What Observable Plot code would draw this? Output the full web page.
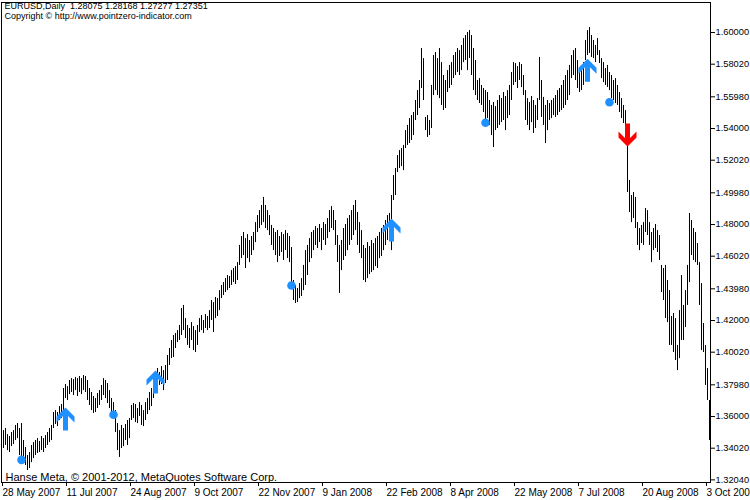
<!DOCTYPE html>
<html>
<head>
<meta charset="utf-8">
<script src="https://cdn.jsdelivr.net/npm/d3@7"></script>
<script src="https://cdn.jsdelivr.net/npm/@observablehq/plot@0.6"></script>
<style>
  html, body { margin: 0; padding: 0; background: #fff; }
  #chart { width: 750px; height: 500px; }
</style>
</head>
<body>
<div id="chart"></div>
<script>
// Daily bar highs (EURUSD), 28 May 2007 .. 3 Oct 2008
const hi = [
1.3512,1.3525,1.3487,1.3475,1.3500,1.3512,1.3544,1.3556,1.3525,1.3556,
1.3450,1.3406,1.3356,1.3375,1.3419,1.3437,1.3450,1.3462,1.3444,1.3475,
1.3462,1.3481,1.3500,1.3525,1.3544,1.3625,1.3637,1.3625,1.3662,1.3675,
1.3775,1.3800,1.3787,1.3825,1.3837,1.3831,1.3844,1.3837,1.3850,1.3837,
1.3856,1.3850,1.3825,1.3775,1.3750,1.3725,1.3712,1.3744,1.3762,1.3794,
1.3837,1.3825,1.3806,1.3762,1.3712,1.3687,1.3637,1.3556,1.3512,1.3544,
1.3525,1.3550,1.3575,1.3587,1.3669,1.3681,1.3675,1.3650,1.3687,1.3669,
1.3637,1.3687,1.3712,1.3750,1.3775,1.3837,1.3875,1.3900,1.3875,1.3912,
1.3887,1.3919,1.3981,1.4025,1.4075,1.4106,1.4119,1.4137,1.4169,1.4275,
1.4294,1.4212,1.4169,1.4150,1.4187,1.4162,1.4137,1.4169,1.4212,1.4231,
1.4200,1.4237,1.4225,1.4262,1.4325,1.4312,1.4344,1.4337,1.4387,1.4419,
1.4437,1.4462,1.4481,1.4475,1.4512,1.4525,1.4537,1.4562,1.4669,1.4725,
1.4750,1.4712,1.4737,1.4700,1.4725,1.4750,1.4812,1.4856,1.4887,1.4919,
1.4969,1.4919,1.4887,1.4856,1.4794,1.4775,1.4750,1.4762,1.4725,1.4750,
1.4737,1.4762,1.4744,1.4725,1.4656,1.4450,1.4419,1.4400,1.4431,1.4462,
1.4544,1.4637,1.4669,1.4712,1.4750,1.4762,1.4787,1.4775,1.4800,1.4775,
1.4812,1.4800,1.4837,1.4887,1.4912,1.4887,1.4825,1.4731,1.4669,1.4700,
1.4775,1.4800,1.4837,1.4856,1.4887,1.4919,1.4950,1.4875,1.4812,1.4762,
1.4669,1.4650,1.4687,1.4662,1.4700,1.4681,1.4712,1.4725,1.4750,1.4775,
1.4794,1.4825,1.4856,1.4869,1.4981,1.5106,1.5150,1.5231,1.5262,1.5275,
1.5294,1.5387,1.5419,1.5462,1.5481,1.5500,1.5575,1.5637,1.5700,1.5900,
1.5837,1.5469,1.5481,1.5450,1.5669,1.5856,1.5875,1.5837,1.5900,1.5812,
1.5731,1.5700,1.5762,1.5794,1.5812,1.5856,1.5875,1.5900,1.5887,1.5919,
1.5962,1.5981,1.6000,1.6012,1.5981,1.5900,1.5825,1.5700,1.5712,1.5669,
1.5650,1.5637,1.5625,1.5575,1.5544,1.5562,1.5537,1.5575,1.5606,1.5587,
1.5625,1.5600,1.5637,1.5669,1.5750,1.5812,1.5806,1.5787,1.5812,1.5800,
1.5731,1.5637,1.5587,1.5562,1.5600,1.5575,1.5544,1.5587,1.5844,1.5700,
1.5594,1.5544,1.5575,1.5556,1.5575,1.5587,1.5606,1.5637,1.5650,1.5669,
1.5700,1.5731,1.5762,1.5794,1.5856,1.5887,1.5900,1.5825,1.5775,1.5762,
1.5812,1.5950,1.6012,1.6031,1.5981,1.5950,1.5919,1.5962,1.5887,1.5837,
1.5812,1.5775,1.5794,1.5750,1.5731,1.5700,1.5712,1.5669,1.5625,1.5587,
1.5544,1.5512,1.5419,1.5075,1.4981,1.5000,1.4969,1.4812,1.4775,1.4794,
1.4812,1.4900,1.4887,1.4812,1.4750,1.4775,1.4800,1.4762,1.4731,1.4544,
1.4525,1.4544,1.4450,1.4387,1.4225,1.4244,1.4212,1.4044,1.4262,1.4481,
1.4294,1.4387,1.4544,1.4869,1.4825,1.4775,1.4750,1.4681,1.4562,1.4431,
1.4181,1.4044,1.3900,1.3700
];
// Daily bar lows
const lo = [
1.3400,1.3419,1.3387,1.3375,1.3412,1.3425,1.3450,1.3462,1.3356,1.3344,
1.3312,1.3294,1.3262,1.3275,1.3312,1.3337,1.3356,1.3369,1.3375,1.3387,
1.3375,1.3400,1.3419,1.3437,1.3450,1.3525,1.3550,1.3537,1.3575,1.3587,
1.3637,1.3712,1.3700,1.3737,1.3750,1.3731,1.3762,1.3725,1.3750,1.3737,
1.3762,1.3750,1.3700,1.3669,1.3637,1.3619,1.3625,1.3650,1.3669,1.3700,
1.3731,1.3712,1.3681,1.3650,1.3612,1.3587,1.3500,1.3387,1.3344,1.3400,
1.3412,1.3450,1.3419,1.3462,1.3575,1.3587,1.3562,1.3556,1.3600,1.3544,
1.3537,1.3575,1.3612,1.3637,1.3662,1.3712,1.3750,1.3775,1.3794,1.3800,
1.3762,1.3806,1.3825,1.3919,1.3962,1.3969,1.4025,1.4062,1.4075,1.4106,
1.4137,1.4087,1.4044,1.4025,1.4075,1.4012,1.4000,1.4044,1.4125,1.4137,
1.4119,1.4150,1.4137,1.4150,1.4200,1.4125,1.4212,1.4225,1.4262,1.4337,
1.4356,1.4375,1.4387,1.4400,1.4419,1.4437,1.4425,1.4450,1.4544,1.4587,
1.4606,1.4525,1.4587,1.4562,1.4606,1.4637,1.4687,1.4750,1.4775,1.4794,
1.4812,1.4775,1.4762,1.4731,1.4669,1.4637,1.4606,1.4562,1.4600,1.4625,
1.4575,1.4637,1.4587,1.4562,1.4437,1.4325,1.4306,1.4312,1.4337,1.4350,
1.4387,1.4419,1.4481,1.4562,1.4587,1.4637,1.4669,1.4650,1.4687,1.4637,
1.4700,1.4669,1.4712,1.4750,1.4775,1.4762,1.4669,1.4562,1.4369,1.4512,
1.4575,1.4600,1.4637,1.4669,1.4700,1.4731,1.4762,1.4669,1.4619,1.4587,
1.4450,1.4437,1.4462,1.4487,1.4500,1.4512,1.4537,1.4525,1.4587,1.4600,
1.4637,1.4669,1.4700,1.4731,1.4637,1.4950,1.4981,1.5125,1.5150,1.5162,
1.5137,1.5275,1.5294,1.5306,1.5325,1.5356,1.5450,1.5481,1.5525,1.5650,
1.5575,1.5387,1.5344,1.5356,1.5400,1.5606,1.5637,1.5606,1.5587,1.5544,
1.5512,1.5525,1.5625,1.5650,1.5669,1.5712,1.5731,1.5750,1.5731,1.5762,
1.5812,1.5825,1.5762,1.5837,1.5731,1.5637,1.5606,1.5575,1.5556,1.5544,
1.5500,1.5450,1.5462,1.5419,1.5356,1.5281,1.5387,1.5400,1.5419,1.5437,
1.5450,1.5387,1.5462,1.5481,1.5575,1.5669,1.5687,1.5650,1.5700,1.5656,
1.5606,1.5450,1.5419,1.5387,1.5437,1.5369,1.5400,1.5450,1.5575,1.5469,
1.5419,1.5306,1.5387,1.5450,1.5462,1.5481,1.5469,1.5481,1.5500,1.5512,
1.5525,1.5544,1.5575,1.5606,1.5712,1.5731,1.5700,1.5650,1.5625,1.5637,
1.5669,1.5825,1.5856,1.5869,1.5844,1.5837,1.5812,1.5856,1.5806,1.5712,
1.5687,1.5669,1.5656,1.5637,1.5587,1.5575,1.5556,1.5544,1.5500,1.5462,
1.5431,1.5419,1.5000,1.4875,1.4812,1.4837,1.4775,1.4669,1.4637,1.4681,
1.4669,1.4750,1.4731,1.4669,1.4562,1.4637,1.4650,1.4625,1.4575,1.4375,
1.4325,1.4212,1.4187,1.4044,1.4044,1.4000,1.3950,1.3887,1.3962,1.4075,
1.4075,1.4156,1.4294,1.4437,1.4606,1.4575,1.4562,1.4544,1.4294,1.4012,
1.4000,1.3794,1.3700,1.3450
];
// Date axis: a label every 32 bars
const xTickIdx = [0, 32, 64, 96, 128, 160, 192, 224, 256, 288, 320, 352];
const xTickLabels = ["28 May 2007", "11 Jul 2007", "24 Aug 2007", "9 Oct 2007", "22 Nov 2007",
  "9 Jan 2008", "22 Feb 2008", "8 Apr 2008", "22 May 2008", "7 Jul 2008", "20 Aug 2008", "3 Oct 2008"];
// Price axis ticks
const yTicks = [1.32040, 1.34020, 1.36000, 1.37980, 1.40020, 1.42000, 1.43980, 1.46020,
  1.48000, 1.49980, 1.52020, 1.54000, 1.55980, 1.58020, 1.60000];
// Indicator signals
const upArrowIdx = [31, 76, 194, 292];
const upArrowPrice = [1.3656, 1.3887, 1.4838, 1.5836];
const downArrowIdx = [312];
const downArrowPrice = [1.5288];
const dotIdx = [9, 55, 144, 241, 303];
const dotPrice = [1.3329, 1.3611, 1.4419, 1.5436, 1.5564];

const bars = hi.map((h, i) => ({i, hi: h, lo: lo[i]}));
const ups = upArrowIdx.map((i, k) => ({i, p: upArrowPrice[k]}));
const downs = downArrowIdx.map((i, k) => ({i, p: downArrowPrice[k]}));
const dots = dotIdx.map((i, k) => ({i, p: dotPrice[k]}));

const arrowUp = {draw(c) {
  c.moveTo(0, 0); c.lineTo(9, 9); c.lineTo(9, 15); c.lineTo(2.5, 8.5); c.lineTo(2.5, 23);
  c.lineTo(-2.5, 23); c.lineTo(-2.5, 8.5); c.lineTo(-9, 15); c.lineTo(-9, 9); c.closePath();
}};
const arrowDown = {draw(c) {
  c.moveTo(0, 0); c.lineTo(9, -9); c.lineTo(9, -15); c.lineTo(2.5, -8.5); c.lineTo(2.5, -23);
  c.lineTo(-2.5, -23); c.lineTo(-2.5, -8.5); c.lineTo(-9, -15); c.lineTo(-9, -9); c.closePath();
}};

const font = "'Liberation Sans', Arial, sans-serif";
const chart = Plot.plot({
  width: 750,
  height: 500,
  marginTop: 2,
  marginBottom: 18,
  marginLeft: 1,
  marginRight: 40,
  style: {fontFamily: font, fontSize: "10px", background: "#fff", color: "#000"},
  x: {type: "linear", domain: [-1, 353.5]},
  y: {domain: [1.31875, 1.61875]},
  marks: [
    Plot.ruleX(bars, {x: "i", y1: "lo", y2: "hi", stroke: "#000", strokeWidth: 1}),
    Plot.dot(dots, {x: "i", y: "p", r: 4.3, fill: "#1e90ff", stroke: null}),
    Plot.dot(ups, {x: "i", y: "p", symbol: arrowUp, fill: "#1e90ff", stroke: null}),
    Plot.dot(downs, {x: "i", y: "p", symbol: arrowDown, fill: "#ff0000", stroke: null}),
    Plot.frame({stroke: "#000"}),
    Plot.axisY({anchor: "right", ticks: yTicks, tickFormat: (d) => d.toFixed(5), tickSize: 4, tickPadding: 1, label: null, fontSize: 9.3}),
    Plot.axisX({ticks: xTickIdx, tickFormat: (d) => xTickLabels[xTickIdx.indexOf(d)], tickSize: 4, tickPadding: 2, textAnchor: "start", dx: -1, label: null, fontSize: 10}),
    Plot.text(["EURUSD,Daily\u00a0\u00a01.28075 1.28168 1.27277 1.27351"], {frameAnchor: "top-left", lineAnchor: "top", textAnchor: "start", dx: 3, dy: 0, fontSize: 9, fill: "#000"}),
    Plot.text(["Copyright \u00a9 http://www.pointzero-indicator.com"], {frameAnchor: "top-left", lineAnchor: "top", textAnchor: "start", dx: 3, dy: 10.5, fontSize: 9, fill: "#000"}),
    Plot.text(["Hanse Meta, \u00a9 2001-2012, MetaQuotes Software Corp."], {frameAnchor: "bottom-left", lineAnchor: "bottom", textAnchor: "start", dx: 4, dy: -2, fontSize: 11, fill: "#000"})
  ]
});
document.getElementById("chart").appendChild(chart);
</script>
</body>
</html>
